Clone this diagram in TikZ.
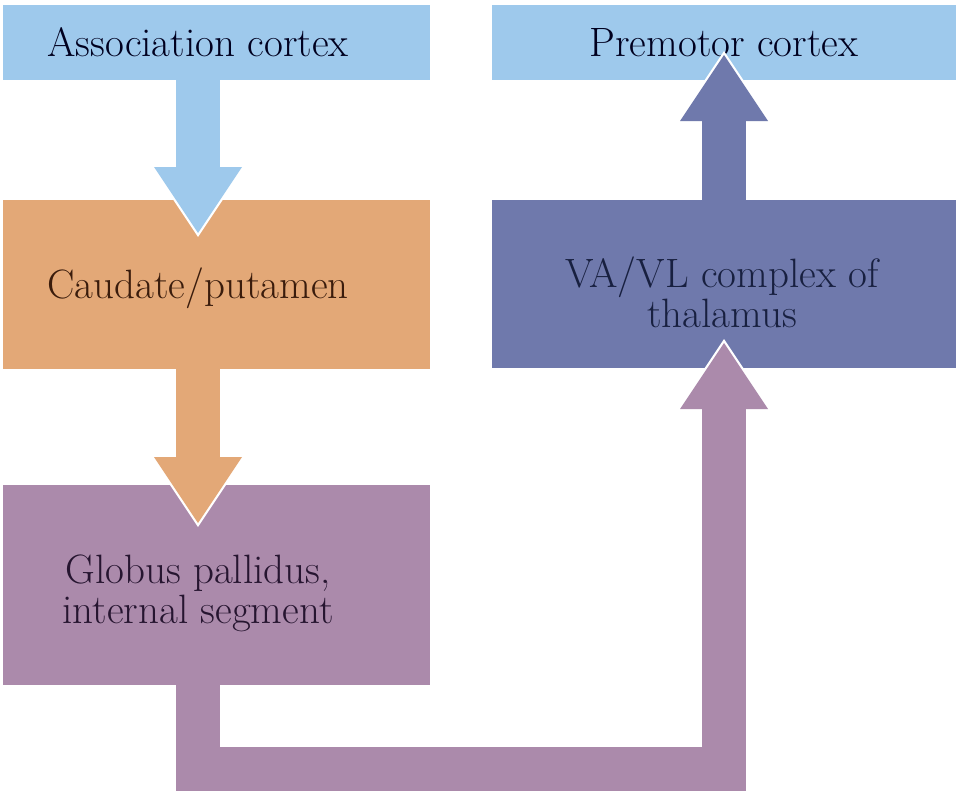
\documentclass[tikz,border=0pt]{standalone}
\usepackage{fontspec}
\usepackage{xcolor}
\usepackage{tikz}
\usetikzlibrary{arrows.meta, positioning, calc}

\definecolor{assocBlue}{HTML}{9EC9EC}
\definecolor{caudOrange}{HTML}{E3A877}
\definecolor{globMauve}{HTML}{AB8AAB}
\definecolor{thalSlate}{HTML}{6F79AC}

\begin{document}
\begin{tikzpicture}[ % boxes in px-like units, y runs downwards
    x=1pt, y=-1pt,
    box/.style={rectangle, inner sep=0pt, outer sep=0pt, minimum width=427pt},
    wide/.style={box, minimum width=464pt},
    label text/.style={align=center, inner sep=0pt, font=\fontsize{41}{40}\selectfont},
    fat/.style={line width=44pt, line join=miter, -{Triangle[length=66pt, width=88pt, line width=0pt]},
        preaction={draw=white, line width=48pt, -{Triangle[length=72pt, width=96pt, line width=0pt]}, shorten >=-4pt}}
    ]
    \useasboundingbox (0,0) rectangle (956,808);

    % Left column
    \node [box, fill=assocBlue, minimum height=75pt] (assoc) at (216.5,42.5) {};
    \node [box, fill=caudOrange, minimum height=169pt, below=120pt of assoc] (caud) {};
    \node [box, fill=globMauve, minimum height=200pt, below=116pt of caud] (glob) {};

    % Right column
    \node [wide, fill=assocBlue, minimum height=75pt, right=62pt of assoc] (premotor) {};
    \node [wide, fill=thalSlate, minimum height=168pt, below=120pt of premotor] (thal) {};

    % arrow axes
    \coordinate (lx) at (198,0);
    \coordinate (rx) at (724,0);
    \coordinate (loopY) at (0,769);

    % Labels
    \node [label text, text=black!80!blue!60!black] (assocT) at (lx |- assoc) {Association cortex};
    \node [label text, text=black!80!blue!60!black] (premotorT) at (rx |- premotor) {Premotor cortex};
    \node [label text, text={rgb,255:red,58;green,28;blue,12}] (caudT) at ($(lx |- caud)+(0,4)$) {Caudate/putamen};
    \node [label text, text={rgb,255:red,24;green,32;blue,64}] (thalT) at ($(rx |- thal)+(-2,8)$) {VA/VL complex of\\thalamus};
    \node [label text, text={rgb,255:red,38;green,21;blue,48}] (globT) at ($(lx |- glob)+(0,8)$) {Globus pallidus,\\internal segment};

    % Arrows
    \draw [fat, draw=assocBlue] (lx |- assoc.south) -- ($(lx |- caud.north)+(0,33)$);
    \draw [fat, draw=caudOrange] (lx |- caud.south) -- ($(lx |- glob.north)+(0,38)$);
    \draw [fat, draw=globMauve] (lx |- glob.south) -- (lx |- loopY) -| ($(rx |- thal.south)+(0,-25)$);
    \draw [fat, draw=thalSlate] (rx |- thal.north) -- ($(rx |- premotor.south)+(0,-25)$);

\end{tikzpicture}
\end{document}
